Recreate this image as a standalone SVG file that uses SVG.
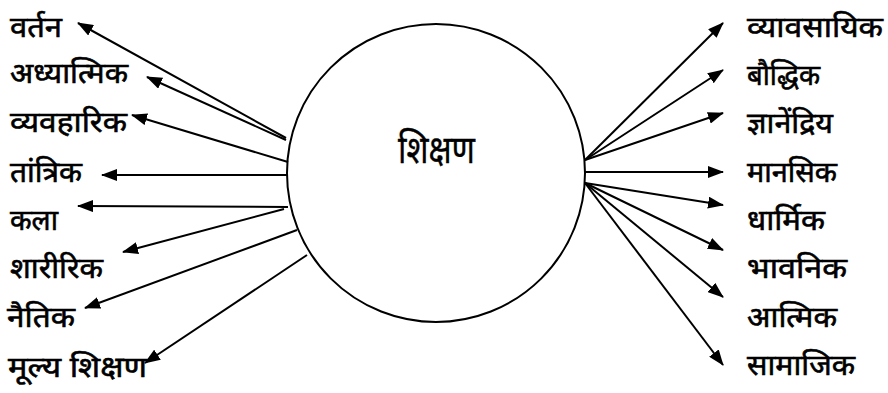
<svg xmlns="http://www.w3.org/2000/svg" width="888" height="393" viewBox="0 0 888 393">
<defs>
<marker id="ah" markerWidth="16" markerHeight="12" refX="15" refY="6" orient="auto" markerUnits="userSpaceOnUse">
<path d="M0,0 L16,6 L0,12 z" fill="#000"/>
</marker>
<style>
.lbl{font-family:"Noto Sans","Noto Sans Devanagari","DejaVu Sans",sans-serif;font-size:29px;fill:#000;stroke:#000;stroke-width:0.6}
.big{font-size:38px;stroke-width:0.4}
.c{stroke:#000;stroke-width:2;fill:none;marker-end:url(#ah)}
</style>
</defs>
<rect width="888" height="393" fill="#fff"/>
<g id="center">
<circle cx="436" cy="173" r="149" fill="none" stroke="#000" stroke-width="2"/>
<text class="lbl big" x="398" y="163" textLength="77" lengthAdjust="spacingAndGlyphs">शिक्षण</text>
</g>
<g id="connectors">
<line class="c" x1="286" y1="138" x2="78" y2="23"/>
<line class="c" x1="286" y1="140" x2="147" y2="77"/>
<line class="c" x1="288" y1="162" x2="132" y2="115"/>
<line class="c" x1="288" y1="175" x2="102" y2="175"/>
<line class="c" x1="288" y1="207" x2="78" y2="206"/>
<line class="c" x1="284" y1="209" x2="123" y2="252"/>
<line class="c" x1="297" y1="230" x2="85" y2="308"/>
<line class="c" x1="307" y1="255" x2="145" y2="363"/>
<line class="c" x1="585" y1="160" x2="723" y2="23"/>
<line class="c" x1="585" y1="160" x2="723" y2="70"/>
<line class="c" x1="585" y1="160" x2="723" y2="113"/>
<line class="c" x1="585" y1="172" x2="723" y2="172"/>
<line class="c" x1="585" y1="183" x2="723" y2="205"/>
<line class="c" x1="585" y1="183" x2="723" y2="250"/>
<line class="c" x1="585" y1="183" x2="723" y2="297"/>
<line class="c" x1="585" y1="183" x2="723" y2="365"/>
</g>
<g id="n-vartan"><text class="lbl" x="10" y="37" textLength="52" lengthAdjust="spacingAndGlyphs">वर्तन</text></g>
<g id="n-adhyatmik"><text class="lbl" x="10" y="83" textLength="118" lengthAdjust="spacingAndGlyphs">अध्यात्मिक</text></g>
<g id="n-vyavaharik"><text class="lbl" x="10" y="132" textLength="117" lengthAdjust="spacingAndGlyphs">व्यवहारिक</text></g>
<g id="n-tantrik"><text class="lbl" x="10" y="182" textLength="72" lengthAdjust="spacingAndGlyphs">तांत्रिक</text></g>
<g id="n-kala"><text class="lbl" x="10" y="230" textLength="48" lengthAdjust="spacingAndGlyphs">कला</text></g>
<g id="n-sharirik"><text class="lbl" x="10" y="278" textLength="93" lengthAdjust="spacingAndGlyphs">शारीरिक</text></g>
<g id="n-naitik"><text class="lbl" x="7" y="327" textLength="68" lengthAdjust="spacingAndGlyphs">नैतिक</text></g>
<g id="n-mulya"><text class="lbl" x="8" y="377" textLength="139" lengthAdjust="spacingAndGlyphs">मूल्य शिक्षण</text></g>
<g id="n-vyavasayik"><text class="lbl" x="747" y="37" textLength="136" lengthAdjust="spacingAndGlyphs">व्यावसायिक</text></g>
<g id="n-bauddhik"><text class="lbl" x="747" y="85" textLength="73" lengthAdjust="spacingAndGlyphs">बौद्धिक</text></g>
<g id="n-gyanendriya"><text class="lbl" x="747" y="133" textLength="86" lengthAdjust="spacingAndGlyphs">ज्ञानेंद्रिय</text></g>
<g id="n-mansik"><text class="lbl" x="747" y="182" textLength="90" lengthAdjust="spacingAndGlyphs">मानसिक</text></g>
<g id="n-dharmik"><text class="lbl" x="747" y="230" textLength="78" lengthAdjust="spacingAndGlyphs">धार्मिक</text></g>
<g id="n-bhavnik"><text class="lbl" x="747" y="278" textLength="100" lengthAdjust="spacingAndGlyphs">भावनिक</text></g>
<g id="n-atmik"><text class="lbl" x="747" y="327" textLength="90" lengthAdjust="spacingAndGlyphs">आत्मिक</text></g>
<g id="n-samajik"><text class="lbl" x="747" y="375" textLength="108" lengthAdjust="spacingAndGlyphs">सामाजिक</text></g>
</svg>
